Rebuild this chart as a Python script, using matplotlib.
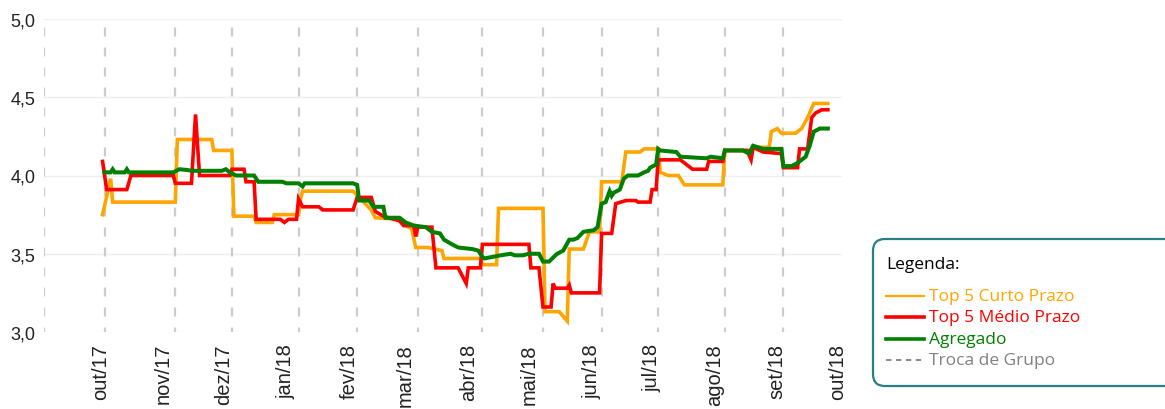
import matplotlib
matplotlib.use("Agg")
import matplotlib.pyplot as plt
from matplotlib.patches import FancyBboxPatch
from matplotlib.lines import Line2D
import pandas as pd

# ---------------- data ----------------
curto_dates = ["2017-10-02", "2017-10-06", "2017-10-07", "2017-11-07", "2017-11-08", "2017-11-25",
               "2017-11-26", "2017-12-05", "2017-12-06", "2017-12-16", "2017-12-17", "2017-12-25",
               "2017-12-26", "2018-01-07", "2018-01-08", "2018-01-09", "2018-02-03", "2018-02-06",
               "2018-02-12", "2018-02-14", "2018-02-26", "2018-03-01", "2018-03-04", "2018-03-06",
               "2018-03-12", "2018-03-19", "2018-03-20", "2018-04-07", "2018-04-08", "2018-04-15",
               "2018-04-16", "2018-05-08", "2018-05-09", "2018-05-16", "2018-05-20", "2018-05-21",
               "2018-05-28", "2018-05-31", "2018-06-05", "2018-06-06", "2018-06-16", "2018-06-18",
               "2018-06-25", "2018-06-27", "2018-07-04", "2018-07-05", "2018-07-09", "2018-07-14",
               "2018-07-17", "2018-08-05", "2018-08-06", "2018-08-19", "2018-08-20", "2018-08-28",
               "2018-08-29", "2018-09-01", "2018-09-03", "2018-09-10", "2018-09-13", "2018-09-16",
               "2018-09-19", "2018-09-26"]
curto_vals = [3.75, 3.98, 3.83, 3.83, 4.23, 4.23,
              4.16, 4.16, 3.74, 3.74, 3.70, 3.70,
              3.75, 3.75, 3.85, 3.90, 3.90, 3.86,
              3.78, 3.73, 3.72, 3.68, 3.66, 3.54,
              3.54, 3.52, 3.47, 3.47, 3.43, 3.43,
              3.79, 3.79, 3.13, 3.13, 3.07, 3.53,
              3.53, 3.64, 3.64, 3.96, 3.96, 4.15,
              4.15, 4.17, 4.17, 4.02, 4.00, 4.00,
              3.94, 3.94, 4.16, 4.16, 4.18, 4.18,
              4.28, 4.30, 4.27, 4.27, 4.30, 4.37,
              4.46, 4.46]

medio_dates = ["2017-10-02", "2017-10-04", "2017-10-14", "2017-10-16", "2017-11-06", "2017-11-07",
               "2017-11-15", "2017-11-17", "2017-11-19", "2017-12-04", "2017-12-05", "2017-12-11",
               "2017-12-12", "2017-12-16", "2017-12-17", "2017-12-29", "2017-12-31", "2018-01-02",
               "2018-01-06", "2018-01-07", "2018-01-09", "2018-01-17", "2018-01-19", "2018-02-03",
               "2018-02-05", "2018-02-12", "2018-02-14", "2018-02-18", "2018-02-26", "2018-02-28",
               "2018-03-05", "2018-03-06", "2018-03-07", "2018-03-14", "2018-03-16", "2018-03-27",
               "2018-03-31", "2018-04-01", "2018-04-07", "2018-04-08", "2018-05-01", "2018-05-02",
               "2018-05-06", "2018-05-08", "2018-05-12", "2018-05-13", "2018-05-14", "2018-05-20",
               "2018-05-21", "2018-05-22", "2018-06-05", "2018-06-06", "2018-06-11", "2018-06-13",
               "2018-06-18", "2018-06-23", "2018-06-24", "2018-06-30", "2018-07-01", "2018-07-03",
               "2018-07-04", "2018-07-15", "2018-07-21", "2018-07-28", "2018-07-29", "2018-08-05",
               "2018-08-06", "2018-08-17", "2018-08-19", "2018-08-20", "2018-08-25", "2018-09-03",
               "2018-09-04", "2018-09-11", "2018-09-12", "2018-09-16", "2018-09-18", "2018-09-20",
               "2018-09-23", "2018-09-26"]
medio_vals = [4.09, 3.91, 3.91, 4.00, 4.00, 3.95,
              3.95, 4.39, 4.00, 4.00, 4.04, 4.04,
              3.96, 3.96, 3.72, 3.72, 3.70, 3.72,
              3.72, 3.85, 3.80, 3.80, 3.78, 3.78,
              3.86, 3.86, 3.77, 3.74, 3.71, 3.68,
              3.68, 3.61, 3.67, 3.67, 3.41, 3.41,
              3.31, 3.41, 3.41, 3.56, 3.56, 3.41,
              3.41, 3.16, 3.16, 3.31, 3.28, 3.28,
              3.30, 3.25, 3.25, 3.63, 3.63, 3.82,
              3.84, 3.84, 3.83, 3.83, 3.91, 3.91,
              4.10, 4.10, 4.04, 4.04, 4.09, 4.09,
              4.16, 4.16, 4.10, 4.18, 4.15, 4.14,
              4.05, 4.05, 4.17, 4.17, 4.37, 4.40,
              4.42, 4.42]

agreg_dates = ["2017-10-03", "2017-10-06", "2017-10-07", "2017-10-08", "2017-10-13", "2017-10-14",
               "2017-10-15", "2017-11-06", "2017-11-09", "2017-11-13", "2017-11-15", "2017-11-30",
               "2017-12-02", "2017-12-04", "2017-12-07", "2017-12-16", "2017-12-18", "2017-12-30",
               "2018-01-01", "2018-01-07", "2018-01-09", "2018-01-10", "2018-02-03", "2018-02-05",
               "2018-02-06", "2018-02-11", "2018-02-13", "2018-02-18", "2018-02-19", "2018-02-26",
               "2018-03-01", "2018-03-05", "2018-03-11", "2018-03-14", "2018-03-18", "2018-03-20",
               "2018-03-24", "2018-03-27", "2018-04-03", "2018-04-06", "2018-04-08", "2018-04-09",
               "2018-04-13", "2018-04-17", "2018-04-22", "2018-04-24", "2018-04-28", "2018-05-01",
               "2018-05-06", "2018-05-08", "2018-05-11", "2018-05-15", "2018-05-18", "2018-05-21",
               "2018-05-23", "2018-05-25", "2018-05-28", "2018-06-02", "2018-06-04", "2018-06-06",
               "2018-06-08", "2018-06-10", "2018-06-11", "2018-06-12", "2018-06-15", "2018-06-17",
               "2018-06-19", "2018-06-24", "2018-06-27", "2018-06-29", "2018-06-30", "2018-07-03",
               "2018-07-04", "2018-07-05", "2018-07-13", "2018-07-15", "2018-07-28", "2018-07-30",
               "2018-08-05", "2018-08-06", "2018-08-15", "2018-08-18", "2018-08-20", "2018-08-25",
               "2018-09-03", "2018-09-04", "2018-09-08", "2018-09-11", "2018-09-15", "2018-09-17",
               "2018-09-19", "2018-09-22", "2018-09-26"]
agreg_vals = [4.02, 4.02, 4.04, 4.02, 4.02, 4.04,
              4.02, 4.02, 4.04, 4.035, 4.03, 4.03,
              4.04, 4.02, 4.00, 4.00, 3.96, 3.96,
              3.95, 3.95, 3.93, 3.95, 3.95, 3.94,
              3.84, 3.84, 3.80, 3.80, 3.73, 3.73,
              3.70, 3.68, 3.67, 3.64, 3.63, 3.59,
              3.56, 3.54, 3.53, 3.52, 3.48, 3.47,
              3.48, 3.49, 3.50, 3.49, 3.49, 3.50,
              3.50, 3.45, 3.45, 3.50, 3.52, 3.59,
              3.59, 3.60, 3.64, 3.65, 3.67, 3.82,
              3.83, 3.90, 3.87, 3.89, 3.91, 3.98,
              4.00, 4.00, 4.02, 4.03, 4.05, 4.07,
              4.17, 4.16, 4.15, 4.12, 4.11, 4.12,
              4.11, 4.16, 4.16, 4.14, 4.19, 4.17,
              4.17, 4.06, 4.06, 4.08, 4.12, 4.19,
              4.28, 4.30, 4.30]

troca_dates = ["2017-09-03", "2017-10-03", "2017-11-07", "2017-12-05", "2018-01-07", "2018-02-05",
               "2018-03-07", "2018-04-08", "2018-05-08", "2018-06-06", "2018-07-04", "2018-08-06",
               "2018-09-04"]

month_ticks = ["2017-10-01", "2017-11-01", "2017-12-01", "2018-01-01", "2018-02-01", "2018-03-01",
               "2018-04-01", "2018-05-01", "2018-06-01", "2018-07-01", "2018-08-01", "2018-09-01",
               "2018-10-01"]
month_labels = ["out/17", "nov/17", "dez/17", "jan/18", "fev/18", "mar/18", "abr/18",
                "mai/18", "jun/18", "jul/18", "ago/18", "set/18", "out/18"]

y_ticks = [3.0, 3.5, 4.0, 4.5, 5.0]
y_labels = ["3,0", "3,5", "4,0", "4,5", "5,0"]

legend_labels = ["Top 5 Curto Prazo", "Top 5 Médio Prazo", "Agregado", "Troca de Grupo"]

# ---------------- style ----------------
ORANGE = "#FFA500"
RED = "#FF0000"
GREEN = "#008000"
DASH_GRAY = "#cccccc"
TEXT_GRAY = "#808080"
TEAL = "#2a7f80"

W, H = 1165, 410
fig = plt.figure(figsize=(W / 100, H / 100), dpi=100)
ax = fig.add_axes([44 / W, 1 - 333 / H, (842 - 44) / W, (333 - 20) / H])

ax.set_xlim(pd.Timestamp("2017-09-03"), pd.Timestamp("2018-10-03"))
ax.set_ylim(3.0, 5.0)

for v in y_ticks:
    ax.axhline(v, color="#efefef", lw=1.0, zorder=0)

for d in troca_dates:
    ax.axvline(pd.Timestamp(d), color=DASH_GRAY, lw=1.6, ls=(2, (4, 5)), zorder=1)

ax.plot(pd.to_datetime(curto_dates), curto_vals, color=ORANGE, lw=2.6, zorder=3,
        solid_joinstyle="miter")
ax.plot(pd.to_datetime(medio_dates), medio_vals, color=RED, lw=2.6, zorder=4,
        solid_joinstyle="miter")
ax.plot(pd.to_datetime(agreg_dates), agreg_vals, color=GREEN, lw=2.9, zorder=5,
        solid_joinstyle="miter")

for s in ax.spines.values():
    s.set_visible(False)

ax.set_yticks(y_ticks)
ax.set_yticklabels(y_labels, fontsize=13, family="Liberation Sans", color="#222222")
ax.set_xticks(pd.to_datetime(month_ticks))
ax.set_xticklabels(month_labels, rotation=90, fontsize=14.5, family="Liberation Sans",
                   color="#222222", ha="center", va="top")
ax.tick_params(axis="both", length=0)
ax.tick_params(axis="y", pad=6)
ax.tick_params(axis="x", pad=8)

# ---------------- legend (drawn in pixel space) ----------------
lax = fig.add_axes([0, 0, 1, 1])
lax.set_xlim(0, W)
lax.set_ylim(H, 0)
lax.axis("off")
lax.add_patch(FancyBboxPatch((873, 240), 310, 147,
                             boxstyle="round,pad=0,rounding_size=12",
                             ec=TEAL, fc="white", lw=1.6, clip_on=False))
LF = ["Open Sans", "DejaVu Sans"]
lax.text(886, 265, "Legenda:", fontsize=12.5, family=LF, color="black", va="center", ha="left")
item_y = [297, 318, 340, 361]
item_colors = [ORANGE, RED, GREEN, TEXT_GRAY]
item_lw = [1.6, 2.6, 2.6, 1.3]
item_ls = ["-", "-", "-", (0, (3, 2.5))]
line_colors = [ORANGE, RED, GREEN, TEXT_GRAY]
for yy, lab, tc, lc, lw, ls in zip(item_y, legend_labels, item_colors, line_colors, item_lw, item_ls):
    lax.add_line(Line2D([886, 924], [yy, yy], color=lc, lw=lw, ls=ls))
    lax.text(929, yy, lab, fontsize=12.5, family=LF, color=tc, va="center", ha="left")

fig.savefig("out.png", dpi=100)
